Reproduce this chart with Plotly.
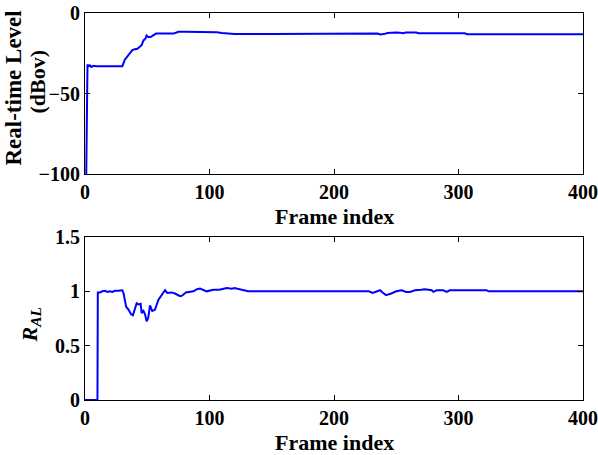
import plotly.graph_objects as go

# ---- data ----
level_frames = [1, 2, 3, 4, 5, 7, 9, 12, 15, 18, 22, 26, 28, 30, 32, 34, 36, 38, 40, 42, 44, 45.5,
                47, 48.5, 49.5, 51, 53, 55, 57, 60, 65, 69, 70, 71, 73, 75, 80, 85, 88, 95, 100, 106,
                110, 115, 120, 150, 180, 200, 225, 230, 232, 235, 237, 240, 243, 246, 250, 253, 255,
                258, 262, 266, 268, 280, 290, 305, 307, 350, 400]
level_dbov = [-100, -32, -33, -32.5, -33.5, -32.8, -33, -33, -33.2, -33, -33, -33, -33.3, -33, -29,
              -27, -25, -23, -22.5, -22.2, -21, -20, -17, -16, -14, -15, -14.8, -13.5, -12.8, -12.8,
              -12.8, -12.8, -12.4, -12.8, -12.3, -11.7, -11.7, -11.7, -12, -12, -12, -12, -12.4, -12.7,
              -13, -13, -13, -13, -13, -13, -12.6, -12.7, -13.3, -13.1, -12.4, -12.1, -12.1, -12.2,
              -12.6, -12.1, -12, -12.1, -12.6, -12.6, -12.6, -12.6, -13.2, -13.2, -13.2]

ral_frames = [0, 10, 10.3, 12, 14, 16, 18, 20, 22, 24, 27, 30, 31, 33, 35, 37, 38.5, 40, 41.5, 43,
              44.7, 45.5, 46.9, 48.2, 49.5, 50.8, 52.2, 54, 56.2, 58.9, 61.6, 64.3, 66, 69.6, 72.3,
              76.3, 78, 81, 87, 90, 92.4, 95, 97.7, 103, 108, 113.8, 118, 120, 124.5, 128, 131, 150,
              200, 228, 231, 234, 237, 239, 241.8, 246, 250, 254.4, 258, 261, 265, 270, 273, 278.5,
              279.8, 282.4, 287.8, 290.5, 293, 300, 322.6, 324, 400]
ral_values = [0, 0, 0.99, 0.99, 1.0, 1.005, 0.995, 1.0, 0.995, 1.005, 1.005, 1.01, 0.98, 0.86, 0.83,
              0.79, 0.78, 0.83, 0.89, 0.88, 0.885, 0.8, 0.82, 0.79, 0.725, 0.755, 0.87, 0.82, 0.83,
              0.92, 0.97, 1.01, 0.985, 0.99, 0.98, 0.955, 0.96, 0.99, 1.0, 1.02, 1.025, 1.01, 1.0,
              1.015, 1.015, 1.03, 1.025, 1.03, 1.02, 1.01, 1.0, 1.0, 1.0, 1.0, 0.985, 0.995, 1.01,
              0.99, 0.965, 0.98, 1.0, 1.01, 0.995, 0.995, 1.01, 1.015, 1.02, 1.01, 0.995, 1.01, 1.01,
              0.995, 1.01, 1.01, 1.01, 1.0, 1.0]

x_ticks = [0, 100, 200, 300, 400]
level_ticks = [-100, -50, 0]
ral_ticks = [0, 0.5, 1, 1.5]
ral_tick_text = ["0", "0.5", "1", "1.5"]

FONT = "Liberation Serif, Times New Roman, serif"

fig = go.Figure()
fig.add_trace(go.Scatter(x=level_frames, y=level_dbov, mode="lines",
                         line=dict(color="#0000FF", width=2), xaxis="x", yaxis="y",
                         showlegend=False))
fig.add_trace(go.Scatter(x=ral_frames, y=ral_values, mode="lines",
                         line=dict(color="#0000FF", width=2), xaxis="x2", yaxis="y2",
                         showlegend=False))

axis_common = dict(showline=True, linecolor="black", linewidth=1, mirror="ticks",
                   ticks="inside", ticklen=5, tickcolor="black", showgrid=False,
                   zeroline=False, automargin=False, ticklabeloverflow="allow",
                   tickfont=dict(family=FONT, size=20, color="black", weight="bold"))

W, H = 598, 455
ML, MR, MT, MB = 85, 15, 13, 55
plot_h = H - MT - MB
top_dom = [(400 - 174) / plot_h, 1.0]
bot_dom = [0.0, (400 - 237) / plot_h]

fig.update_layout(
    width=W, height=H,
    margin=dict(l=ML, r=MR, t=MT, b=MB, autoexpand=False),
    paper_bgcolor="white", plot_bgcolor="white",
    xaxis=dict(domain=[0, 1], range=[0, 400], tickvals=x_ticks, anchor="y", **axis_common),
    yaxis=dict(domain=top_dom, range=[-100, 0], tickvals=level_ticks, anchor="x", **axis_common),
    xaxis2=dict(domain=[0, 1], range=[0, 400], tickvals=x_ticks, anchor="y2", **axis_common),
    yaxis2=dict(domain=bot_dom, range=[0, 1.5], tickvals=ral_ticks, ticktext=ral_tick_text,
                anchor="x2", **axis_common),
)

title_font = dict(family=FONT, size=22, color="black", weight="bold")
annotations = [
    dict(text="Frame index", xref="paper", yref="paper", x=0.5, y=top_dom[0],
         xanchor="center", yanchor="top", yshift=-28, showarrow=False, font=title_font),
    dict(text="Frame index", xref="paper", yref="paper", x=0.5, y=bot_dom[0],
         xanchor="center", yanchor="top", yshift=-28, showarrow=False, font=title_font),
    dict(text="Real-time Level", xref="paper", yref="paper", x=0, y=(top_dom[0] + top_dom[1]) / 2,
         xanchor="center", yanchor="middle", xshift=-72, yshift=5, textangle=-90,
         showarrow=False, font=dict(family=FONT, size=23, color="black", weight="bold")),
    dict(text="(dBov)", xref="paper", yref="paper", x=0, y=(top_dom[0] + top_dom[1]) / 2,
         xanchor="center", yanchor="middle", xshift=-48, yshift=12, textangle=-90,
         showarrow=False, font=dict(family=FONT, size=22, color="black", weight="bold")),
    dict(text="<i>R</i><sub><i>AL</i></sub>", xref="paper", yref="paper", x=0,
         y=(bot_dom[0] + bot_dom[1]) / 2, xanchor="center", yanchor="middle", xshift=-55,
         yshift=-7, textangle=-90, showarrow=False,
         font=dict(family=FONT, size=22, color="black", weight="bold")),
]
fig.update_layout(annotations=annotations)

fig.write_html("out.html", post_script="document.body.style.margin='0';",
               config={"displayModeBar": False})
